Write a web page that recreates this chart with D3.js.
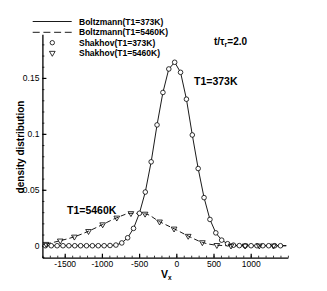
<!DOCTYPE html>
<html><head><meta charset="utf-8">
<script src="https://cdn.jsdelivr.net/npm/d3@7"></script>
<style>
body{margin:0;background:#fff;}
text{font-family:"Liberation Sans",Arial,Helvetica,sans-serif;fill:#000;}
</style></head>
<body><svg id="c" width="327" height="291"></svg>
<script>
// ---- data ----
const v373 = [-1760,-1681,-1602,-1523,-1444,-1365,-1286,-1207,-1128,-1049,-970,-891,-812,-733,-654,-575,-496,-417,-338,-259,-180,-101,-22,57,136,215,294,373,452,531,610,689,768,847,926,1005,1084,1163,1242,1321,1400];
const f373 = [0,0,0,0,0,0,0,0,0,0,0,0.0002,0.0006,0.0025,0.0071,0.0155,0.029,0.048,0.075,0.108,0.137,0.158,0.164,0.155,0.131,0.099,0.069,0.043,0.0235,0.0115,0.005,0.0018,0.0005,0.0001,0,0,0,0,0,0,0];
const boltzV373 = [-1760,-1681,-1602,-1523,-1444,-1365,-1286,-1207,-1128,-1049,-970,-891,-812,-733,-654,-575,-496,-417,-338,-259,-180,-101,-22,57,136,215,294,373,452,531,610,689,768,847,926,1005,1084,1163,1242,1321,1400,1480];
const boltzF373 = [0,0,0,0,0,0,0,0,0,0,0,0.0002,0.0006,0.0025,0.0071,0.0155,0.029,0.048,0.075,0.108,0.137,0.158,0.164,0.155,0.131,0.099,0.069,0.043,0.0235,0.0115,0.005,0.0018,0.0005,0.0001,0,0,0,0,0,0,0,0];
const v5460 = [-1750,-1560,-1370,-1180,-990,-800,-610,-420,-225,-30,160,350,545,735,925,1115,1305];
const f5460 = [0.0015,0.0045,0.008,0.013,0.019,0.025,0.029,0.0285,0.0215,0.0152,0.0087,0.0030,0.0005,0,0,0,0];
const boltzV5460 = [-1750,-1560,-1370,-1180,-990,-800,-610,-420,-225,-30,160,350,545,735,925,1115,1305,1480];
const boltzF5460 = [0.0015,0.0045,0.008,0.013,0.019,0.025,0.029,0.0285,0.0215,0.0152,0.0087,0.0030,0.0005,0,0,0,0,0];
const xTicks = [-1500,-1000,-500,0,500,1000];
const yTicks = [0,0.05,0.1,0.15];
const legendLabels = ["Boltzmann(T1=373K)","Boltzmann(T1=5460K)","Shakhov(T1=373K)","Shakhov(T1=5460K)"];

// ---- chart ----
const svg = d3.select("#c");
const x = d3.scaleLinear().domain([-1800,1500]).range([42.4,287.9]);
const y = d3.scaleLinear().domain([-0.0107,0.189]).range([257.7,34.3]);

// minor ticks
const xMinor = d3.range(-1800,1501,100);
const yMinor = d3.range(-0.01,0.1891,0.01);
svg.append("g").attr("transform",`translate(0,${y.range()[0]})`)
  .call(d3.axisBottom(x).tickValues(xMinor).tickSize(-2).tickSizeOuter(0).tickFormat(""))
  .call(g=>g.select(".domain").remove())
  .call(g=>g.selectAll("line").attr("stroke","#000").attr("stroke-width",0.8));
svg.append("g").attr("transform",`translate(${x.range()[0]},0)`)
  .call(d3.axisLeft(y).tickValues(yMinor).tickSize(-2).tickSizeOuter(0).tickFormat(""))
  .call(g=>g.select(".domain").remove())
  .call(g=>g.selectAll("line").attr("stroke","#000").attr("stroke-width",0.8));

// major axes
const gx = svg.append("g").attr("transform",`translate(0,${y.range()[0]})`)
  .call(d3.axisBottom(x).tickValues(xTicks).tickSize(-4).tickSizeOuter(0).tickPadding(3.5).tickFormat(d3.format("d")));
gx.select(".domain").attr("stroke","#000").attr("stroke-width",1.3);
gx.selectAll("line").attr("stroke","#000").attr("stroke-width",1.2);
gx.selectAll("text").attr("font-size","8.5px").attr("font-family","Liberation Sans, Arial, sans-serif").text(d=>d<0?"-"+Math.abs(d):d);

const gy = svg.append("g").attr("transform",`translate(${x.range()[0]},0)`)
  .call(d3.axisLeft(y).tickValues(yTicks).tickSize(-4).tickSizeOuter(0).tickPadding(3).tickFormat(d=>d===0?"0":String(d)));
gy.select(".domain").attr("stroke","#000").attr("stroke-width",1.3);
gy.selectAll("line").attr("stroke","#000").attr("stroke-width",1.2);
gy.selectAll("text").attr("font-size","8.5px").attr("font-family","Liberation Sans, Arial, sans-serif");

// curves
const line = d3.line().x(d=>x(d[0])).y(d=>y(d[1]));
svg.append("path").datum(boltzV373.map((v,i)=>[v,boltzF373[i]]))
  .attr("d",line).attr("fill","none").attr("stroke","#000").attr("stroke-width",0.9);
svg.append("path").datum(boltzV5460.map((v,i)=>[v,boltzF5460[i]]))
  .attr("d",line.curve(d3.curveMonotoneX)).attr("fill","none").attr("stroke","#000").attr("stroke-width",0.9).attr("stroke-dasharray","5,3");

// markers
const tri = d3.symbol().type(d3.symbolTriangle).size(14);
svg.append("g").selectAll("circle").data(v373.map((v,i)=>[v,f373[i]])).join("circle")
  .attr("cx",d=>x(d[0])).attr("cy",d=>y(d[1])).attr("r",2.3)
  .attr("fill","#fff").attr("stroke","#000").attr("stroke-width",0.8);
svg.append("g").selectAll("path").data(v5460.map((v,i)=>[v,f5460[i]])).join("path")
  .attr("d",tri).attr("transform",d=>`translate(${x(d[0])},${y(d[1])}) rotate(180)`)
  .attr("fill","none").attr("stroke","#000").attr("stroke-width",0.8);

// legend
const lg = svg.append("g");
const ly = [21.5,32.3,42.7,53];
lg.append("line").attr("x1",32.7).attr("x2",71.7).attr("y1",ly[0]).attr("y2",ly[0]).attr("stroke","#000").attr("stroke-width",0.9);
lg.append("line").attr("x1",32.7).attr("x2",71.7).attr("y1",ly[1]).attr("y2",ly[1]).attr("stroke","#000").attr("stroke-width",0.9).attr("stroke-dasharray","7,3.7");
lg.append("circle").attr("cx",52.3).attr("cy",ly[2]).attr("r",2.2).attr("fill","#fff").attr("stroke","#000").attr("stroke-width",0.8);
lg.append("path").attr("d",tri).attr("transform",`translate(52.3,${ly[3]}) rotate(180)`).attr("fill","none").attr("stroke","#000").attr("stroke-width",0.8);
lg.selectAll("text").data(legendLabels).join("text")
  .attr("x",79).attr("y",(d,i)=>ly[i]+3).attr("font-size","8.5px").attr("font-weight","bold").text(d=>d);

// annotations
const tt = svg.append("text").attr("x",214).attr("y",44.5).attr("font-size","10px").attr("font-weight","bold");
tt.append("tspan").text("t/τ");
tt.append("tspan").attr("font-size","7px").attr("dy",2.5).text("r");
tt.append("tspan").attr("dy",-2.5).text("=2.0");
svg.append("text").attr("x",194).attr("y",85).attr("font-size","10.5px").attr("font-weight","bold").text("T1=373K");
svg.append("text").attr("x",67).attr("y",214).attr("font-size","10.5px").attr("font-weight","bold").text("T1=5460K");

// axis titles
svg.append("text").attr("transform","translate(24,147) rotate(-90)").attr("text-anchor","middle")
  .attr("font-size","10px").attr("font-weight","bold").text("density distribution");
const xt = svg.append("text").attr("x",161).attr("y",277.5).attr("font-size","10.5px").attr("font-weight","bold");
xt.append("tspan").text("V");
xt.append("tspan").attr("font-size","6.5px").attr("dy",2).text("x");
</script></body></html>
